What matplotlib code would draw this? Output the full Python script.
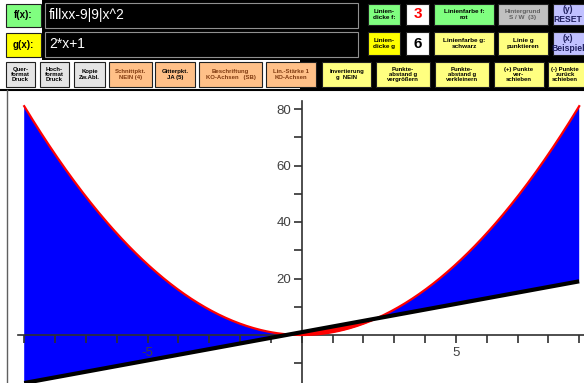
import matplotlib
matplotlib.use("Agg")
import matplotlib.pyplot as plt
import numpy as np
from matplotlib.patches import Rectangle
from matplotlib.ticker import FixedLocator, FixedFormatter

plt.rcParams['font.family'] = ['Liberation Sans', 'DejaVu Sans']

# functions as typed in the input fields
f_text = "fillxx-9|9|x^2"
g_text = "2*x+1"
f_coef = [1, 0, 0]    # x^2
g_coef = [2, 1]       # 2*x+1
x_range = [-9, 9]
n_points = 400

xtick_values = list(range(-9, 10))
xtick_labels = ['-5' if v == -5 else '5' if v == 5 else '' for v in xtick_values]
ytick_values = list(range(-10, 90, 10))
ytick_labels = [str(v) if v in (20, 40, 60, 80) else '' for v in ytick_values]

line_width_f = "3"
line_width_g = "6"

# toolbar buttons (label, colour)
row1 = [("Linien-\ndicke f:", '#80ff80'), ("3", 'white'), ("Linienfarbe f:\nrot", '#80ff80'),
        ("Hintergrund\nS / W  (3)", '#c0c0c0'), ("(y)\nRESET", '#c0c0ff')]
row2 = [("Linien-\ndicke g", '#ffff00'), ("6", 'white'), ("Linienfarbe g:\nschwarz", '#ffff80'),
        ("Linie g\npunktieren", '#ffff80'), ("(x)\nBeispiel", '#c0c0ff')]
row3 = [("Quer-\nformat\nDruck", '#e4e4e4'), ("Hoch-\nformat\nDruck", '#e4e4e4'),
        ("Kopie\nZw.Abl.", '#e4e4e4'), ("Schnittpkt.\nNEIN (4)", '#ffc088'),
        ("Gitterpkt.\nJA (5)", '#ffc088'), ("Beschriftung\nKO-Achsen   (SB)", '#ffc088'),
        ("Lin.-Stärke 1\nKO-Achsen", '#ffc088'), ("Invertierung\ng  NEIN", '#ffff80'),
        ("Punkte-\nabstand g\nvergrößern", '#ffff80'), ("Punkte-\nabstand g\nverkleinern", '#ffff80'),
        ("(+) Punkte\nver-\nschieben", '#ffff80'), ("(-) Punkte\nzurück\nschieben", '#ffff80')]

W, H = 584, 383
fig = plt.figure(figsize=(W / 100, H / 100), dpi=100)
fig.patch.set_facecolor('white')

# ---- GUI panel, pixel coordinates
ui = fig.add_axes([0, 0, 1, 1])
ui.set_xlim(0, W)
ui.set_ylim(H, 0)
ui.axis('off')


def box(x0, x1, y0, y1, color, text='', fs=4.6, tc='black', weight='bold', ec='#202020',
        ha='center', tx=None):
    ui.add_patch(Rectangle((x0, y0), x1 - x0, y1 - y0, facecolor=color, edgecolor=ec, lw=0.8))
    if text:
        if tx is None:
            tx = (x0 + x1) / 2 if ha == 'center' else x0 + 4
        ui.text(tx, (y0 + y1) / 2, text, ha=ha, va='center', fontsize=fs, color=tc,
                fontweight=weight, linespacing=1.1)


ui.add_patch(Rectangle((42, 0), W - 42, 60, facecolor='black', lw=0))
ui.add_patch(Rectangle((300, 58), W - 300, 31, facecolor='black', lw=0))

box(6, 41, 4, 27, '#80ff80', 'f(x):', fs=7)
box(6, 41, 33, 57, '#ffff00', 'g(x):', fs=7)
box(45, 358, 3, 28, 'black', f_text, fs=10, tc='white', weight='normal', ec='#909090', ha='left')
box(45, 358, 32, 57, 'black', g_text, fs=10, tc='white', weight='normal', ec='#909090', ha='left')

cols = [(368, 400), (406, 429), (434, 494), (498, 548), (553, 600)]
for (x0, x1), (lab, col) in zip(cols, row1):
    if lab == line_width_f:
        box(x0, x1, 4, 25, col, lab, fs=11, tc='red')
    elif col == '#c0c0ff':
        box(x0, x1, 4, 25, col, lab, fs=6.2, tc='#202060', tx=568)
    else:
        box(x0, x1, 4, 25, col, lab, fs=4.6, tc='#606060' if col == '#c0c0c0' else 'black')
for (x0, x1), (lab, col) in zip(cols, row2):
    if lab == line_width_g:
        box(x0, x1, 32, 55, col, lab, fs=11)
    elif col == '#c0c0ff':
        box(x0, x1, 32, 55, col, lab, fs=6.2, tc='#202060', tx=568)
    else:
        box(x0, x1, 32, 55, col, lab, fs=4.6)

edges3 = [(6, 35), (40, 69), (74, 105), (109, 152), (155, 195), (199, 262), (266, 316),
          (322, 371), (376, 430), (435, 489), (494, 544), (548, 600)]
for (x0, x1), (lab, col) in zip(edges3, row3):
    box(x0, x1, 62, 87, col, lab, fs=4.3, tx=565 if x1 > W else None,
        tc='#803a10' if lab.startswith(('Schnitt', 'Beschr', 'Lin.')) else 'black')

ui.plot([0, W], [89.5, 89.5], color='black', lw=1.5)
ui.plot([6.5, 6.5], [90, H], color='#606060', lw=1)

# ---- function plot
px_per_x = 555 / 18
px_per_y = 226 / 80
x0_px, y0_px = 301.7, 335
ax = fig.add_axes([7 / W, 0, (W - 7) / W, (H - 91) / H])
ax.set_xlim(-9 - (x0_px - 9 * px_per_x - 7) / px_per_x, 9 + (W - x0_px - 9 * px_per_x) / px_per_x)
ax.set_ylim(-(H - y0_px) / px_per_y, (y0_px - 91) / px_per_y)
ax.patch.set_alpha(0)

x = np.linspace(x_range[0], x_range[1], n_points)
f = np.polyval(f_coef, x)
g = np.polyval(g_coef, x)

ax.fill_between(x, f, g, where=f >= g, interpolate=True, color='#0000ff', lw=0, zorder=1)
ax.fill_between(x, f, g, where=f <= g, interpolate=True, color='#ff0000', lw=0, zorder=1)
ax.plot(x, f, color='red', lw=1.6, zorder=3)
ax.plot(x, g, color='black', lw=3, zorder=4, solid_capstyle='butt')

for s in ('top', 'right'):
    ax.spines[s].set_visible(False)
ax.spines['left'].set_position(('data', 0))
ax.spines['bottom'].set_position(('data', 0))
ax.spines['bottom'].set_bounds(-9.2, 9.3)
ax.spines['left'].set_bounds(-20, 83)
for s in ('left', 'bottom'):
    ax.spines[s].set_color('#303030')
    ax.spines[s].set_linewidth(1.2)
    ax.spines[s].set_zorder(2)

ax.xaxis.set_major_locator(FixedLocator(xtick_values))
ax.xaxis.set_major_formatter(FixedFormatter(xtick_labels))
ax.yaxis.set_major_locator(FixedLocator(ytick_values))
ax.yaxis.set_major_formatter(FixedFormatter(ytick_labels))
ax.tick_params(axis='both', direction='out', length=6, width=1.2, color='#303030',
               labelsize=9.5, labelcolor='#404040')
ax.tick_params(axis='x', pad=3)
ax.tick_params(axis='y', pad=1.5)

fig.savefig('out.png', dpi=100)
